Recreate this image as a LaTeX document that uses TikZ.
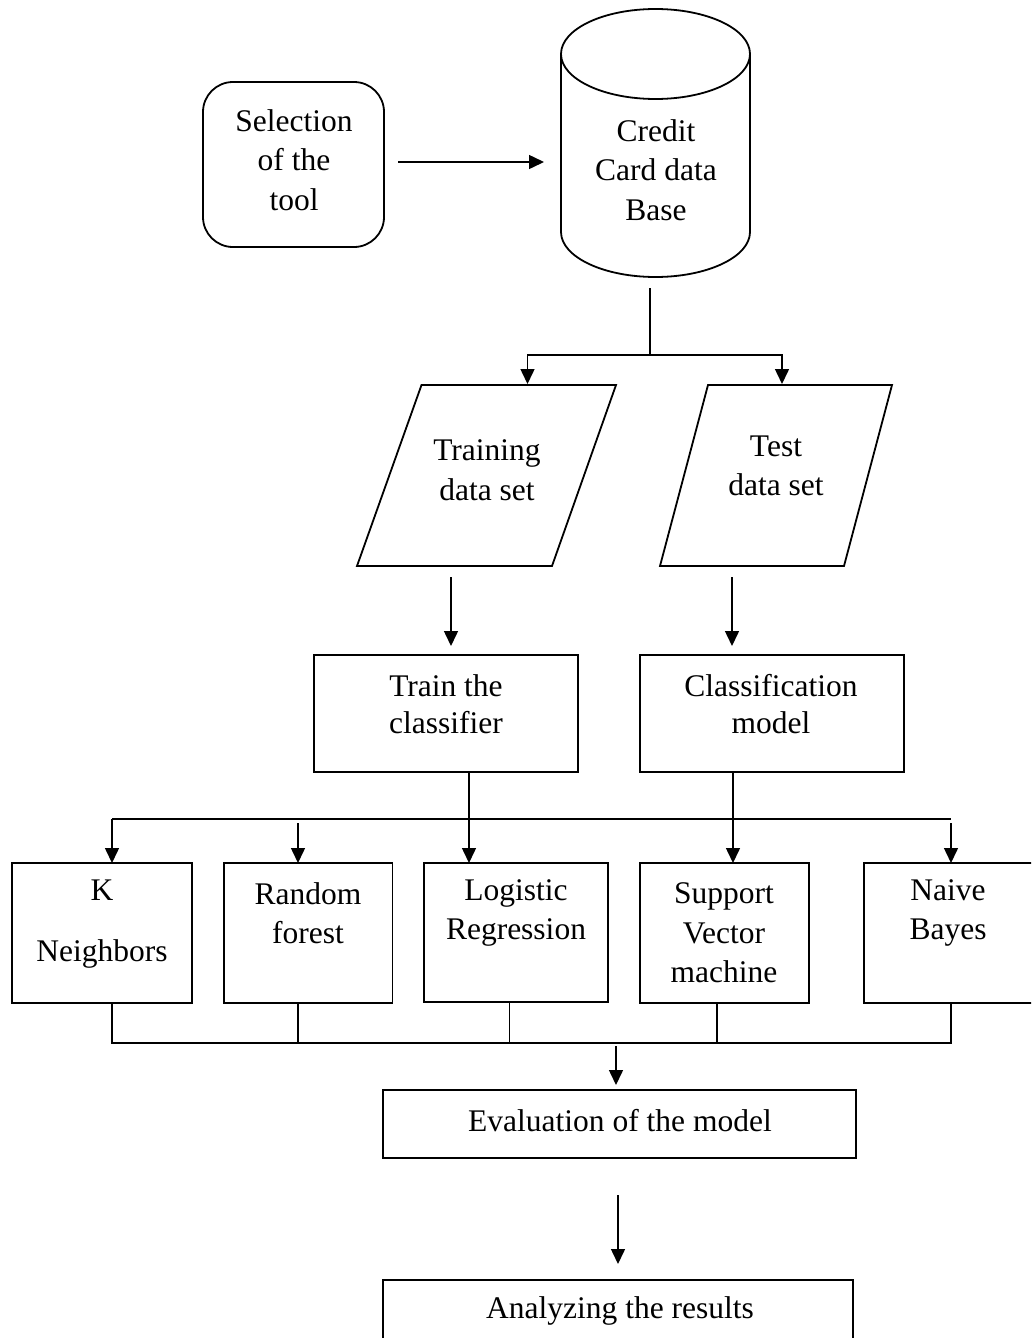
\documentclass[tikz,border=0pt]{standalone}
\usepackage{fontspec}
\setmainfont{Liberation Serif}
\usetikzlibrary{arrows.meta}
\begin{document}
\begin{tikzpicture}[x=1pt,y=-1pt,
  line width=1.5pt,
  >={Triangle[length=15pt,width=14pt]},
  box/.style={draw, line width=1.8pt, inner sep=0pt, outer sep=0pt},
  txt/.style={align=center, inner sep=0pt, font=\fontsize{31.5}{39.5}\selectfont},
  conn/.style={line width=1.5pt}]
\useasboundingbox (0,0) rectangle (1031,1338);
\clip (0,0) rectangle (1031,1338);

% selection of the tool
\node[box, rounded corners=30pt, minimum width=181pt, minimum height=165pt] (tool) at (293.5,164.5) {};
\node[txt] (tooltxt) at (294,160) {Selection\\of the\\tool};

% database cylinder
\draw[line width=1.8pt] (655.5,54) ellipse [x radius=94.5, y radius=45];
\draw[line width=1.8pt] (561,54) -- (561,232) arc[start angle=180, end angle=0, x radius=94.5, y radius=45] -- (750,54);
\node[txt] (db) at (656,170) {Credit\\Card data\\Base};

\coordinate (a1s) at (398,162);
\coordinate (a1e) at (544,162);
\draw[conn,->] (a1s) -- (a1e);

% split
\coordinate (dbout) at (650,288);
\coordinate (split) at (650,355);
\coordinate (trainin) at (527.5,384);
\coordinate (testin) at (782,384);
\draw[conn] (dbout) -- (split);
\draw[conn,->] (split) -| (trainin);
\draw[conn,->] (split) -| (testin);

% parallelograms
\draw[line width=1.8pt] (421.5,385) -- (616,385) -- (552,566) -- (357,566) -- cycle;
\node[txt] (trainset) at (487,470) {Training\\data set};
\draw[line width=1.8pt] (708,385) -- (892,385) -- (844,566) -- (660,566) -- cycle;
\node[txt] (testset) at (776,466) {Test\\data set};

\coordinate (t1s) at (451,577);
\coordinate (t1e) at (451,646);
\coordinate (t2s) at (732,577);
\coordinate (t2e) at (732,646);
\draw[conn,->] (t1s) -- (t1e);
\draw[conn,->] (t2s) -- (t2e);

% train / classification boxes
\node[box, minimum width=264pt, minimum height=117pt] (trainbox) at (446,713.5) {};
\node[txt, font=\fontsize{31.5}{36.5}\selectfont] (traintxt) at (446,704) {Train the\\classifier};
\node[box, minimum width=264pt, minimum height=117pt] (classbox) at (772,713.5) {};
\node[txt, font=\fontsize{31.5}{36.5}\selectfont] (classtxt) at (771,704) {Classification\\model};

% algorithm boxes
\node[box, minimum width=180pt, minimum height=140pt] (knn) at (102,933) {};
\node[txt] (knntxt) at (102,924) {K\\[22pt]Neighbors};
\node[box, minimum width=168.5pt, minimum height=140pt] (rf) at (308.25,933) {};
\node[txt] (rftxt) at (308,913) {Random\\forest};
\node[box, minimum width=184pt, minimum height=139pt] (lr) at (516,932.5) {};
\node[txt] (lrtxt) at (516,913) {Logistic\\Regression};
\node[box, minimum width=169pt, minimum height=140pt] (svm) at (724.5,933) {};
\node[txt] (svmtxt) at (724,933) {Support\\Vector\\machine};
\node[box, minimum width=176pt, minimum height=140pt] (nb) at (952,933) {};
\node[txt] (nbtxt) at (948,913) {Naive\\Bayes};

% distribution
\coordinate (dl) at (112,819);
\coordinate (dr) at (951,819);
\draw[conn] (dl) -- (dr);
\draw[conn,->] (dl) -- (knn.north -| dl);
\coordinate (rfs) at (298,823);
\draw[conn,->] (rfs) -- (rf.north -| rfs);
\coordinate (nbs) at (951,823);
\draw[conn,->] (nbs) -- (nb.north -| nbs);
\draw[conn,->] (trainbox.south -| 469,0) -- (lr.north -| 469,0);
\draw[conn,->] (classbox.south -| 733,0) -- (svm.north -| 733,0);

% collection
\coordinate (c1) at (112,1043);
\coordinate (c2) at (298,1043);
\coordinate (c3) at (509.5,1043);
\coordinate (c4) at (717,1043);
\coordinate (c5) at (951,1043);
\draw[conn] (knn.south -| c1) -- (c1) -- (c5) -- (nb.south -| c5);
\draw[conn] (rf.south -| c2) -- (c2);
\draw[conn] (lr.south -| c3) -- (c3);
\draw[conn] (svm.south -| c4) -- (c4);

% evaluation
\node[box, minimum width=473pt, minimum height=68pt] (eval) at (619.5,1124) {};
\node[txt] (evaltxt) at (620,1121) {Evaluation of the model};
\coordinate (e1s) at (616,1046);
\coordinate (e1e) at (616,1085);
\draw[conn,->] (e1s) -- (e1e);

% analyzing
\node[box, minimum width=470pt, minimum height=90pt] (anal) at (618,1325) {};
\node[txt] (analtxt) at (620,1311) {Analyzing the results};
\coordinate (e2s) at (618,1195);
\coordinate (e2e) at (618,1264);
\draw[conn,->] (e2s) -- (e2e);
\end{tikzpicture}
\end{document}
